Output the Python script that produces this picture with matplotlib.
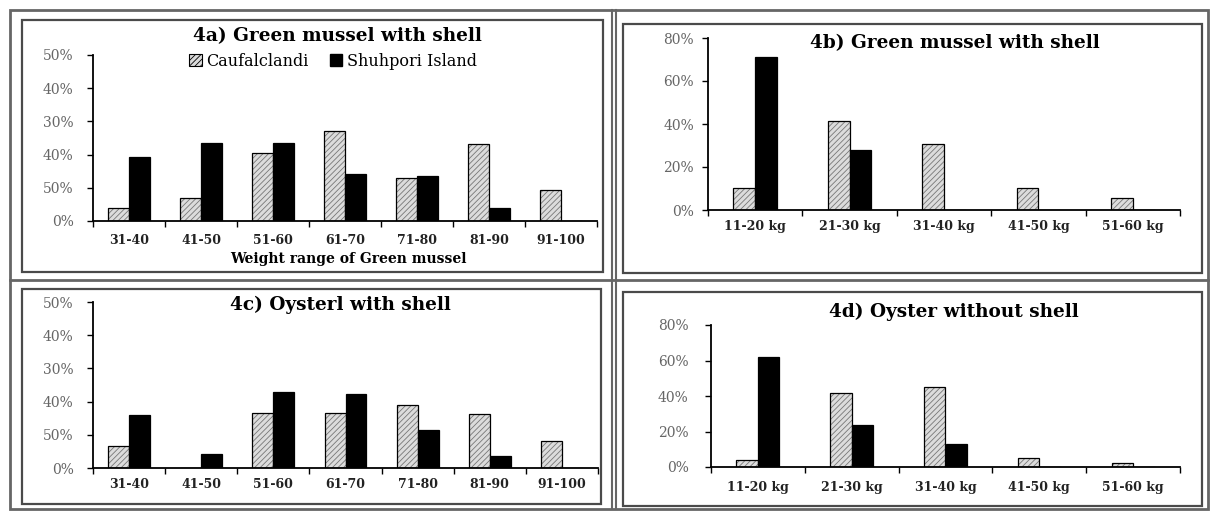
import matplotlib
matplotlib.use("Agg")
from matplotlib import pyplot as plt
from matplotlib.patches import Rectangle, Patch
import numpy as np

# the scan is stretched sideways, DejaVu Serif is wide enough to match it
plt.rcParams['font.family'] = ['DejaVu Serif', 'Liberation Serif']
plt.rcParams['hatch.linewidth'] = 0.6

# data (percent)
mussel_ranges = ["31-40", "41-50", "51-60", "61-70", "71-80", "81-90", "91-100"]
kg_ranges = ["11-20 kg", "21-30 kg", "31-40 kg", "41-50 kg", "51-60 kg"]
series_names = ["Caufalclandi", "Shuhpori Island"]

a_cauf = [3.8, 6.8, 20.4, 27.1, 13.1, 23.1, 9.3]
a_shuh = [19.2, 23.6, 23.4, 14.1, 13.6, 4.0, 0]
b_cauf = [10.4, 41.5, 30.8, 10.4, 5.7]
b_shuh = [71.0, 28.0, 0, 0, 0]
c_cauf = [6.6, 0, 16.6, 16.6, 19.0, 16.4, 8.1]
c_shuh = [15.9, 4.3, 23.0, 22.3, 11.3, 3.6, 0]
d_cauf = [3.8, 41.5, 44.9, 5.1, 2.5]
d_shuh = [62.0, 23.5, 13.1, 0, 0]

# y tick labels as printed on the scan
pct_ticks_50 = [0, 10, 20, 30, 40, 50]
pct_labels_50 = ["0%", "50%", "40%", "30%", "40%", "50%"]
pct_ticks_80 = [0, 20, 40, 60, 80]
pct_labels_80 = ["0%", "20%", "40%", "60%", "80%"]

titles = ["4a) Green mussel with shell", "4b) Green mussel with shell",
          "4c) Oysterl with shell", "4d) Oyster without shell"]

W, H = 1213, 512
fig = plt.figure(figsize=(W / 100, H / 100), dpi=100)
fig.patch.set_facecolor("white")

def px(x0, y0, x1, y1):
    # pixel box (top-left origin) -> figure fraction rect
    return [x0 / W, 1 - y1 / H, (x1 - x0) / W, (y1 - y0) / H]

HATCH_FACE = "#dcdcdc"
HATCH_COLOR = "#777777"

def draw_panel(rect, cats, cauf, shuh, width, ymax, ticks, labels, labelpad, ypad):
    ax = fig.add_axes(rect)
    x = np.arange(len(cats))
    # hatched bars: fill + hatch, then black outline on top
    ax.bar(x - width / 2, cauf, width, color=HATCH_FACE, hatch="//////",
           edgecolor=HATCH_COLOR, linewidth=0)
    ax.bar(x - width / 2, cauf, width, fill=False, edgecolor="black", linewidth=0.9)
    ax.bar(x + width / 2, shuh, width, color="black", edgecolor="black", linewidth=0.9)
    ax.set_xlim(-0.5, len(cats) - 0.5)
    ax.set_ylim(0, ymax)
    ax.set_yticks(ticks)
    ax.set_yticklabels(labels, fontsize=10, color="#666666")
    ax.set_xticks(x)
    ax.set_xticklabels(cats, fontsize=9, fontweight="bold", color="#222222")
    ax.set_xticks(np.arange(len(cats) + 1) - 0.5, minor=True)
    ax.tick_params(axis="x", which="major", length=0, pad=labelpad)
    ax.tick_params(axis="x", which="minor", length=4, width=1, direction="out")
    ax.tick_params(axis="y", length=4, width=1, direction="out", pad=ypad)
    for s in ["top", "right"]:
        ax.spines[s].set_visible(False)
    for s in ["left", "bottom"]:
        ax.spines[s].set_linewidth(1.3)
    ax.set_facecolor("none")
    return ax

# panel frames: outer double line plus inner box per panel
frame_col = "#4a4a4a"
r = px(10, 10, 1208, 509)
fig.add_artist(Rectangle((r[0], r[1]), r[2], r[3], transform=fig.transFigure,
                         fill=False, edgecolor="#666666", linewidth=2.0))
for xv in [612, 616]:
    fig.add_artist(plt.Line2D([xv / W, xv / W], [0.005, 1 - 10 / H], transform=fig.transFigure,
                              color="#666666", linewidth=1.5))
fig.add_artist(plt.Line2D([10 / W, 1208 / W], [1 - 280 / H, 1 - 280 / H], transform=fig.transFigure,
                          color="#666666", linewidth=2.0))
for box in [(22, 20, 603, 272), (623, 24, 1202, 273), (22, 289, 601, 504), (623, 292, 1202, 506)]:
    r = px(*box)
    fig.add_artist(Rectangle((r[0], r[1]), r[2], r[3], transform=fig.transFigure,
                             fill=False, edgecolor=frame_col, linewidth=1.6))

ax_a = draw_panel(px(93, 55, 597, 221), mussel_ranges, a_cauf, a_shuh, 0.29, 50,
                  pct_ticks_50, pct_labels_50, 9, 10)
ax_b = draw_panel(px(708, 38, 1180, 210), kg_ranges, b_cauf, b_shuh, 0.23, 80,
                  pct_ticks_80, pct_labels_80, 7, 6)
ax_c = draw_panel(px(93, 302, 598, 468), mussel_ranges, c_cauf, c_shuh, 0.29, 50,
                  pct_ticks_50, pct_labels_50, 7, 10)
ax_d = draw_panel(px(711, 325, 1180, 467), kg_ranges, d_cauf, d_shuh, 0.23, 80,
                  pct_ticks_80, pct_labels_80, 10, 12)

title_pos = [(337, 36), (955, 43), (340, 305), (954, 312)]
for t, (tx, ty) in zip(titles, title_pos):
    fig.text(tx / W, 1 - ty / H, t, ha="center", va="center", fontsize=13.3, fontweight="bold")

fig.text(348 / W, 1 - 259 / H, "Weight range of Green mussel", ha="center", va="center",
         fontsize=10, fontweight="bold")

handles = [Patch(facecolor=HATCH_FACE, edgecolor="black", hatch="//////", linewidth=0.8),
           Patch(facecolor="black", edgecolor="black")]
fig.legend(handles, series_names, loc="center", bbox_to_anchor=(333 / W, 1 - 61 / H),
           ncol=2, frameon=False, fontsize=11.5, handlelength=0.8, handleheight=0.8,
           handletextpad=0.3, columnspacing=1.3)

plt.savefig("out.png", dpi=100)
